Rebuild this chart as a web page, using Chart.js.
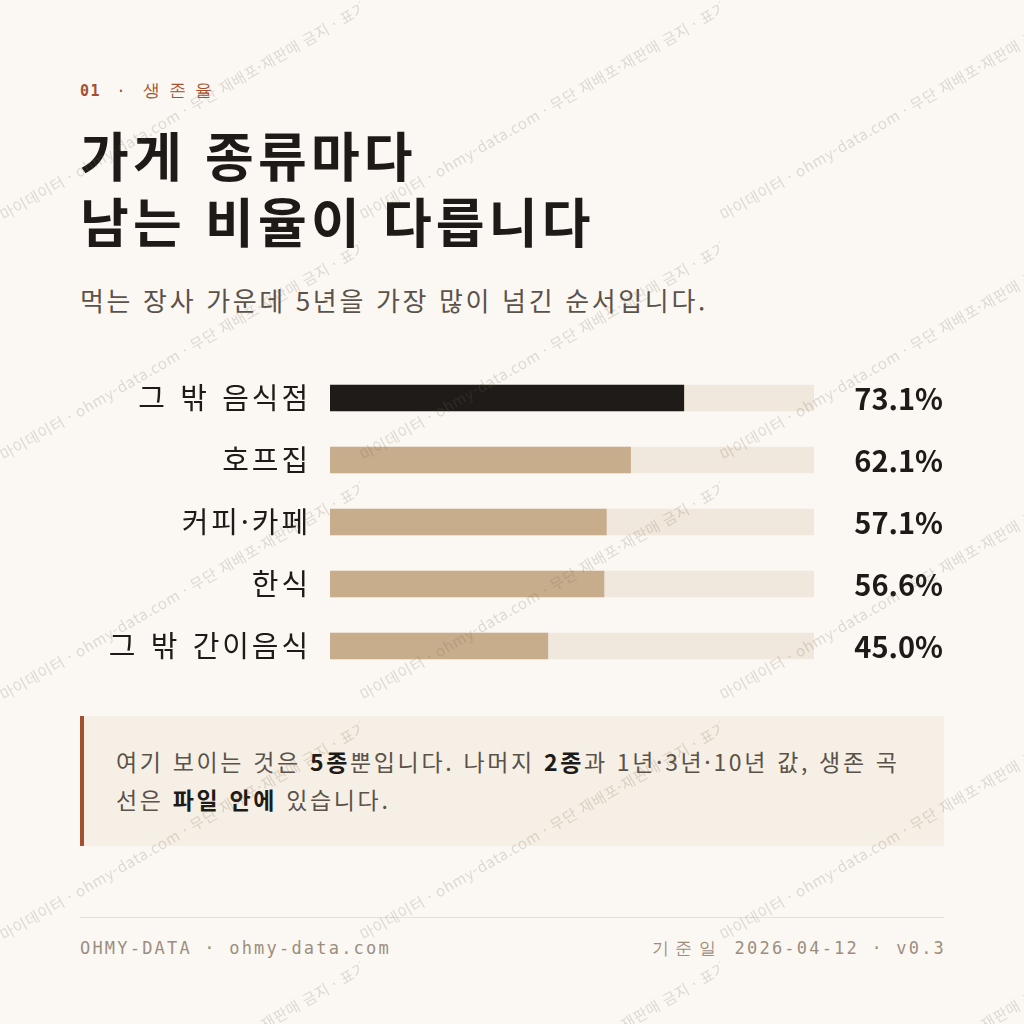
<!DOCTYPE html>
<html lang="ko">
<head>
<meta charset="utf-8">
<script src="https://cdn.jsdelivr.net/npm/chart.js@4.4.1/dist/chart.umd.min.js"></script>
<style>
  html, body { margin: 0; padding: 0; background: #fbf8f3; }
  #page { position: relative; width: 1024px; height: 1024px; overflow: hidden; background: #fbf8f3;
          font-family: "Noto Sans CJK KR", "Noto Sans", sans-serif; }
  .eyebrow { position: absolute; left: 80px; top: 79px; font: 15px "DejaVu Sans Mono", monospace;
             color: #a4502f; letter-spacing: 1.5px; word-spacing: 5px; line-height: 22px; white-space: nowrap; }
  .eyebrow b { font-weight: 700; }
  .eyebrow .ko { font-size: 17px; letter-spacing: 9px; }
  h1 { position: absolute; left: 80px; top: 121px; margin: 0; font-size: 53px; font-weight: 700;
       line-height: 66px; color: #1e1a17; letter-spacing: 4.2px; white-space: nowrap; }
  .sub { position: absolute; left: 80px; top: 283px; margin: 0; font-size: 26px; line-height: 34px;
         color: #5b524a; letter-spacing: 2.65px; white-space: nowrap; }
  #chartBox { position: absolute; left: 80px; top: 367px; width: 864px; height: 310px; }
  .note { position: absolute; left: 80px; top: 716px; width: 864px; height: 130px; box-sizing: border-box;
          background: #f6efe5; border-left: 4px solid #a4502f; padding: 26px 0 0 32px;
          font-size: 23px; line-height: 38px; color: #5b524a; letter-spacing: 2.65px; white-space: nowrap; }
  .note b { color: #1e1a17; font-weight: 700; }
  .rule { position: absolute; left: 80px; top: 917px; width: 864px; height: 1px; background: #e7e0d5; }
  .foot { position: absolute; top: 937px; font: 17px "DejaVu Sans Mono", monospace; color: #9c8e7e;
          letter-spacing: 2.2px; line-height: 22px; white-space: nowrap; }
  .foot .ko { letter-spacing: 6.5px; }
  .foot.l { left: 80px; }
  .foot.r { right: 78px; }
  #wm { position: absolute; left: 0; top: 0; width: 1024px; height: 1024px; pointer-events: none; }
  .tile { position: absolute; width: 360px; height: 240px; overflow: hidden; }
  .tile span { position: absolute; left: -3px; top: 209px; transform-origin: 0 0; transform: rotate(-30deg);
               white-space: nowrap; font-size: 15px; line-height: 15px; letter-spacing: 0.6px;
               color: rgba(120, 100, 80, 0.21); }
</style>
</head>
<body>
<div id="page">
  <div class="eyebrow"><b>01</b> · <span class="ko">생존율</span></div>
  <h1>가게 종류마다<br>남는 비율이 다릅니다</h1>
  <p class="sub">먹는 장사 가운데 5년을 가장 많이 넘긴 순서입니다.</p>

  <div id="chartBox"><canvas id="chart" width="864" height="310"></canvas></div>

  <div class="note">여기 보이는 것은 <b>5종</b>뿐입니다. 나머지 <b>2종</b>과 1년·3년·10년 값, 생존 곡<br>선은 <b>파일 안에</b> 있습니다.</div>

  <div class="rule"></div>
  <div class="foot l">OHMY-DATA · ohmy-data.com</div>
  <div class="foot r"><span class="ko">기준일</span> 2026-04-12 · v0.3</div>

  <div id="wm"></div>
</div>

<script>
// 5년 생존율 (%)
const categories = ["그 밖 음식점", "호프집", "커피·카페", "한식", "그 밖 간이음식"];
const survival5y = [73.1, 62.1, 57.1, 56.6, 45.0];
const trackMax = [100, 100, 100, 100, 100];

const DARK = "#1f1b18";
const TAN = "#c8ad8c";
const TRACK = "#f0e8dc";

Chart.defaults.font.family = "'Noto Sans CJK KR', 'Noto Sans', sans-serif";

// wider letter/word spacing for the category labels
const spacing = {
  id: "spacing",
  beforeDraw(chart) {
    chart.ctx.letterSpacing = "2.9px";
    chart.ctx.wordSpacing = "3px";
  }
};

// percent label at the right end of each row
const valueLabels = {
  id: "valueLabels",
  afterDatasetsDraw(chart) {
    const ctx = chart.ctx;
    const meta = chart.getDatasetMeta(1);
    ctx.save();
    ctx.letterSpacing = "0px";
    ctx.wordSpacing = "0px";
    ctx.font = "700 29px 'Noto Sans CJK KR', sans-serif";
    ctx.fillStyle = "#1e1a17";
    ctx.textAlign = "right";
    ctx.textBaseline = "middle";
    meta.data.forEach((bar, i) => {
      ctx.fillText(survival5y[i].toFixed(1) + "%", chart.width - 1, bar.y + 1);
    });
    ctx.restore();
  }
};

new Chart(document.getElementById("chart"), {
  type: "bar",
  data: {
    labels: categories,
    datasets: [
      {
        data: trackMax,
        backgroundColor: TRACK,
        grouped: false,
        order: 2,
        barThickness: 26
      },
      {
        data: survival5y,
        backgroundColor: survival5y.map((v, i) => i === 0 ? DARK : TAN),
        grouped: false,
        order: 1,
        barThickness: 26
      }
    ]
  },
  options: {
    indexAxis: "y",
    responsive: false,
    animation: false,
    layout: { padding: { left: 0, right: 130, top: 0, bottom: 0 } },
    plugins: { legend: { display: false }, tooltip: { enabled: false } },
    scales: {
      x: { display: false, min: 0, max: 100 },
      y: {
        grid: { display: false, drawTicks: false },
        border: { display: false },
        ticks: { color: "#1e1a17", font: { size: 29 }, padding: 19 },
        afterFit(scale) {
          scale.width = 250;
          scale.paddingTop = 0;
          scale.paddingBottom = 0;
        }
      }
    }
  },
  plugins: [spacing, valueLabels]
});

// faint tiled watermark
const wmText = "마이데이터 · ohmy-data.com · 무단 재배포·재판매 금지 · 표기 필수";
const wm = document.getElementById("wm");
for (let c = 0; c < 3; c++) {
  for (let r = 0; r < 5; r++) {
    const t = document.createElement("div");
    t.className = "tile";
    t.style.left = (c * 360) + "px";
    t.style.top = (r * 240) + "px";
    const s = document.createElement("span");
    s.textContent = wmText;
    t.appendChild(s);
    wm.appendChild(t);
  }
}
</script>
</body>
</html>
